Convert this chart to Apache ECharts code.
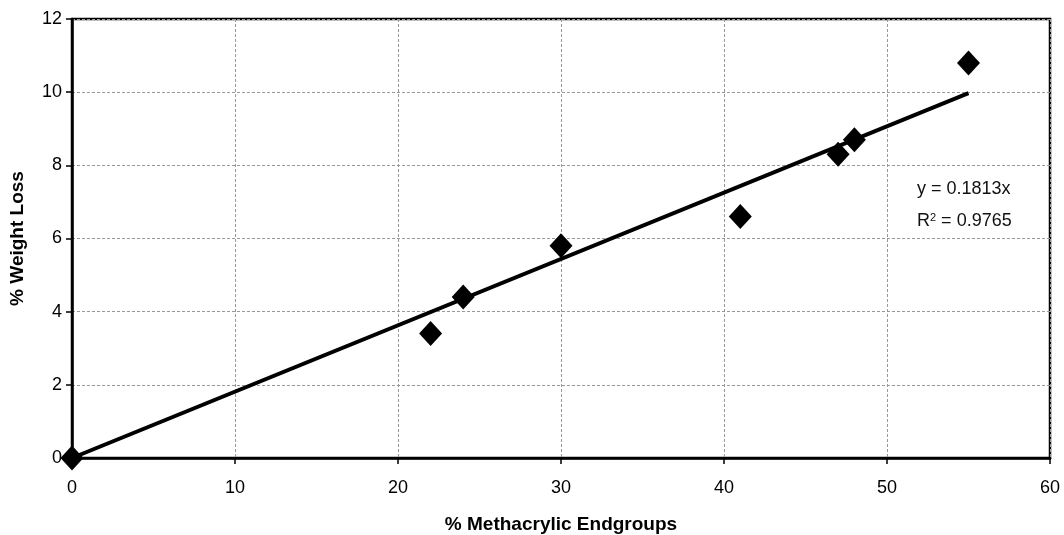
<!DOCTYPE html>
<html><head><meta charset="utf-8">
<script src="https://cdn.jsdelivr.net/npm/echarts@6/dist/echarts.min.js"></script>
<style>html,body{margin:0;padding:0;background:#fff}#c{width:1064px;height:535px}</style>
</head><body><div id="c"></div>
<script>
const xValues = [0, 22, 24, 30, 41, 47, 48, 55];
const yValues = [0, 3.4, 4.4, 5.8, 6.6, 8.3, 8.7, 10.8];
const slope = 0.1813;
const r2 = 0.9765;
const trendX = [0, 55];
const xTicks = [0, 10, 20, 30, 40, 50, 60];
const yTicks = [0, 2, 4, 6, 8, 10, 12];

const pts = xValues.map((x, i) => [x, yValues[i]]);
const trend = trendX.map(x => [x, +(slope * x).toFixed(4)]);
const font = 'Liberation Sans, Arial, sans-serif';

const chart = echarts.init(document.getElementById('c'));
chart.setOption({
  animation: false,
  grid: { left: 72, right: 14, top: 19, bottom: 77, outerBoundsMode: 'none', containLabel: false, show: true, borderColor: '#000', borderWidth: 2.5, backgroundColor: '#fff' },
  xAxis: {
    type: 'value', min: 0, max: 60, interval: 10,
    name: '% Methacrylic Endgroups', nameLocation: 'middle', nameGap: 57,
    nameTextStyle: { fontFamily: font, fontWeight: 'bold', fontSize: 19, color: '#000' },
    axisLine: { show: true, lineStyle: { color: '#000', width: 2.5 } },
    axisTick: { show: true, inside: false, length: 6, lineStyle: { color: '#000', width: 1.5 } },
    axisLabel: { fontFamily: font, fontSize: 18, color: '#000', margin: 21 },
    splitLine: { show: true, lineStyle: { color: '#999', type: [3, 2], width: 1 } }
  },
  yAxis: {
    type: 'value', min: 0, max: 12, interval: 2,
    name: '% Weight Loss', nameLocation: 'middle', nameGap: 45,
    nameTextStyle: { fontFamily: font, fontWeight: 'bold', fontSize: 19, color: '#000' },
    axisLine: { show: true, lineStyle: { color: '#000', width: 2.5 } },
    axisTick: { show: true, inside: false, length: 6, lineStyle: { color: '#000', width: 1.5 } },
    axisLabel: { fontFamily: font, fontSize: 18, color: '#000', margin: 10 },
    splitLine: { show: true, lineStyle: { color: '#999', type: [3, 2], width: 1 } }
  },
  series: [
    { type: 'line', data: trend, showSymbol: false, lineStyle: { color: '#000', width: 4 }, z: 2, silent: true },
    { type: 'scatter', data: pts, symbol: 'diamond', symbolSize: [23, 25], itemStyle: { color: '#000', opacity: 1 }, z: 3 }
  ],
  graphic: [
    { type: 'text', left: 917, top: 180, style: { text: 'y = ' + slope + 'x', font: '18px ' + font, fill: '#111' } },
    { type: 'text', left: 917, top: 212, style: { rich: { a: { font: '18px ' + font, fill: '#111' }, s: { font: '11px ' + font, fill: '#111', verticalAlign: 'top', padding: [0,0,8,0] } }, text: '{a|R}{s|2}{a| = ' + r2 + '}' } }
  ]
});
</script></body></html>
